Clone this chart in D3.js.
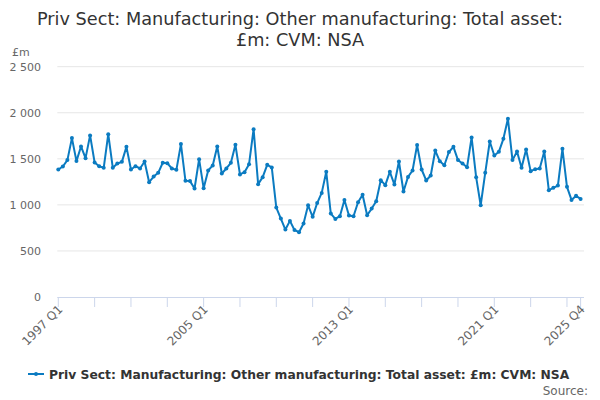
<!DOCTYPE html>
<html>
  <head>
    <script src="https://d3js.org/d3.v7.min.js"></script>
  </head>
  <style>
    body { margin: 0; }
    svg { font-family: "DejaVu Sans", sans-serif; }
  </style>
  <body>
    <svg></svg>
    <script>
      // quarterly values, 1997 Q1 .. 2025 Q4 (£m)
      const values = [
        1384, 1417, 1486, 1725, 1475, 1634, 1507, 1754, 1460, 1420,
        1402, 1768, 1402, 1449, 1467, 1630, 1384, 1420, 1395, 1471,
        1246, 1308, 1348, 1457, 1453, 1395, 1380, 1660, 1261, 1258,
        1178, 1496, 1181, 1373, 1428, 1634, 1341, 1395, 1457, 1652,
        1330, 1355, 1442, 1822, 1225, 1301, 1435, 1406, 971, 852,
        732, 826, 728, 703, 797, 996, 870, 1020, 1130, 1359,
        906, 848, 877, 1054, 884, 877, 1029, 1109, 888, 960,
        1040, 1268, 1214, 1359, 1221, 1471, 1145, 1304, 1373, 1649,
        1384, 1265, 1319, 1590, 1473, 1430, 1574, 1630, 1486, 1449,
        1409, 1732, 1301, 996, 1348, 1688, 1536, 1576, 1717, 1935,
        1486, 1580, 1402, 1601, 1366, 1388, 1395, 1580, 1159, 1185,
        1210, 1609, 1196, 1054, 1098, 1065
      ];
      const quarters = [];
      for (let y = 1997; y <= 2025; y++) {
        for (let q = 1; q <= 4; q++) quarters.push(y + " Q" + q);
      }
      const tickLabels = ["1997 Q1", "2005 Q1", "2013 Q1", "2021 Q1", "2025 Q4"];
      const yTicks = [0, 500, 1000, 1500, 2000, 2500];
      const titleLines = ["Priv Sect: Manufacturing: Other manufacturing: Total asset:", "£m: CVM: NSA"];
      const seriesName = "Priv Sect: Manufacturing: Other manufacturing: Total asset: £m: CVM: NSA";

      const color = "#0b7bc1";
      const svg = d3.select("svg").attr("width", 600).attr("height", 400);

      const x = d3.scaleLinear().domain([0, quarters.length - 1]).range([58.3, 580.6]);
      const y = d3.scaleLinear().domain([0, 2500]).range([297, 66.7]);

      // title
      svg.selectAll(".title")
        .data(titleLines)
        .enter()
        .append("text")
        .attr("x", 300)
        .attr("y", (d, i) => 25 + i * 21)
        .attr("text-anchor", "middle")
        .style("font-size", "17.7px")
        .style("fill", "#333")
        .text(d => d);

      // gridlines + y labels
      svg.selectAll(".grid")
        .data(yTicks.filter(d => d > 0))
        .enter()
        .append("line")
        .attr("x1", 57.3).attr("x2", 584)
        .attr("y1", d => y(d)).attr("y2", d => y(d))
        .style("stroke", "#e6e6e6");

      svg.selectAll(".ylab")
        .data(yTicks)
        .enter()
        .append("text")
        .attr("x", 41)
        .attr("y", d => y(d) + 4)
        .attr("text-anchor", "end")
        .style("font-size", "11px")
        .style("fill", "#666")
        .text(d => d3.format(",")(d).replace(",", " "));

      svg.append("text")
        .attr("x", 12).attr("y", 56)
        .style("font-size", "11px")
        .style("fill", "#666")
        .text("£m");

      // x axis
      svg.append("line")
        .attr("x1", 57.3).attr("x2", 584)
        .attr("y1", 297.5).attr("y2", 297.5)
        .style("stroke", "#ccd6eb");

      const tickIdx = d3.range(0, quarters.length, 8).concat([quarters.length - 1]);
      svg.selectAll(".xtick")
        .data(tickIdx)
        .enter()
        .append("line")
        .attr("x1", d => x(d)).attr("x2", d => x(d))
        .attr("y1", 297).attr("y2", 307)
        .style("stroke", "#ccd6eb");

      svg.selectAll(".xlab")
        .data(tickLabels)
        .enter()
        .append("text")
        .attr("transform", d => `translate(${x(quarters.indexOf(d)) + 5},${310}) rotate(-45)`)
        .attr("text-anchor", "end")
        .style("font-size", "12px")
        .style("fill", "#666")
        .text(d => d);

      // series
      const line = d3.line().x((d, i) => x(i)).y(d => y(d));
      svg.append("path")
        .datum(values)
        .attr("d", line)
        .style("fill", "none")
        .style("stroke", color)
        .style("stroke-width", 2)
        .style("stroke-linejoin", "round");

      svg.selectAll(".dot")
        .data(values)
        .enter()
        .append("circle")
        .attr("cx", (d, i) => x(i))
        .attr("cy", d => y(d))
        .attr("r", 2)
        .style("fill", color);

      // legend
      svg.append("line")
        .attr("x1", 28).attr("x2", 44)
        .attr("y1", 374).attr("y2", 374)
        .style("stroke", color).style("stroke-width", 2);
      svg.append("circle")
        .attr("cx", 36).attr("cy", 374).attr("r", 2)
        .style("fill", color);
      svg.append("text")
        .attr("x", 49).attr("y", 378.5)
        .style("font-size", "12.3px")
        .style("font-weight", "bold")
        .style("fill", "#333")
        .text(seriesName);

      svg.append("text")
        .attr("x", 588).attr("y", 395)
        .attr("text-anchor", "end")
        .style("font-size", "12px")
        .style("fill", "#666")
        .text("Source:");
    </script>
  </body>
</html>
